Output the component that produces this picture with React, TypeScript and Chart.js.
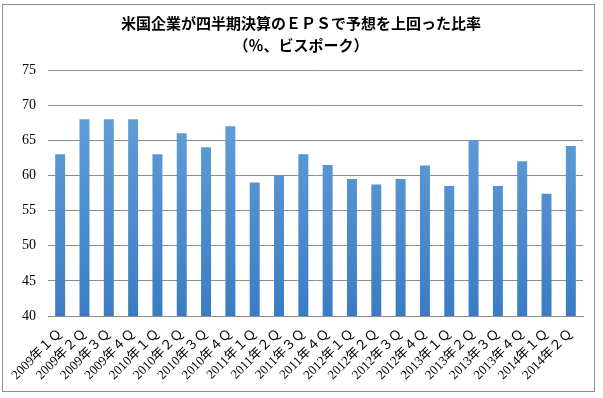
import React, { useEffect, useRef } from "react";
import { Chart, registerables } from "chart.js";

Chart.register(...registerables);

const titleLines = ["米国企業が四半期決算のＥＰＳで予想を上回った比率", "（％、ビスポーク）"];

const categories = [
  "2009年１Ｑ", "2009年２Ｑ", "2009年３Ｑ", "2009年４Ｑ",
  "2010年１Ｑ", "2010年２Ｑ", "2010年３Ｑ", "2010年４Ｑ",
  "2011年１Ｑ", "2011年２Ｑ", "2011年３Ｑ", "2011年４Ｑ",
  "2012年１Ｑ", "2012年２Ｑ", "2012年３Ｑ", "2012年４Ｑ",
  "2013年１Ｑ", "2013年２Ｑ", "2013年３Ｑ", "2013年４Ｑ",
  "2014年１Ｑ", "2014年２Ｑ",
];

const values = [
  63, 68, 68, 68,
  63, 66, 64, 67,
  59, 60, 63, 61.5,
  59.5, 58.7, 59.5, 61.4,
  58.5, 65, 58.5, 62,
  57.4, 64.2,
];

const yMin = 40;
const yMax = 75;
const yStep = 5;

const framePlugin = {
  id: "frame",
  beforeDraw(chart: any) {
    const ctx = chart.ctx;
    ctx.save();
    ctx.fillStyle = "#ffffff";
    ctx.fillRect(0, 0, chart.width, chart.height);
    ctx.strokeStyle = "#8c8c8c";
    ctx.lineWidth = 1;
    ctx.strokeRect(2.5, 4.5, 592, 387);
    ctx.fillStyle = "#000000";
    ctx.font = "bold 15px 'Noto Sans CJK JP', sans-serif";
    ctx.textAlign = "center";
    ctx.textBaseline = "middle";
    ctx.fillText(titleLines[0], 301, 23);
    ctx.fillText(titleLines[1], 301, 45);
    ctx.restore();
  },
};

export default function App() {
  const ref = useRef<HTMLCanvasElement>(null);
  useEffect(() => {
    if (!ref.current) return;
    const chart = new Chart(ref.current, {
      type: "bar",
      data: {
        labels: categories,
        datasets: [
          {
            data: values,
            backgroundColor: (c: any) => {
              const area = c.chart.chartArea;
              if (!area) return "#4a8ccf";
              const g = c.chart.ctx.createLinearGradient(0, area.top, 0, area.bottom);
              g.addColorStop(0, "#6aa5dc");
              g.addColorStop(1, "#3a7cc4");
              return g;
            },
            borderWidth: 0,
            barPercentage: 0.82,
            categoryPercentage: 0.5,
          },
        ],
      },
      options: {
        responsive: false,
        animation: false,
        devicePixelRatio: 1,
        layout: { padding: { left: 0, right: 20, top: 70, bottom: 0 } },
        plugins: {
          legend: { display: false },
          title: { display: false },
          tooltip: { enabled: false },
        },
        scales: {
          x: {
            grid: { display: false },
            border: { display: true, color: "#8c8c8c", width: 1 },
            ticks: {
              color: "#000",
              font: { family: "'Liberation Serif', 'Noto Sans CJK JP', serif", size: 13 },
              maxRotation: 45,
              minRotation: 45,
              autoSkip: false,
              padding: 2,
            },
            afterFit: (s: any) => {
              s.height = 82;
            },
          },
          y: {
            min: yMin,
            max: yMax,
            ticks: {
              stepSize: yStep,
              color: "#000",
              font: { family: "'Liberation Serif', serif", size: 14 },
              padding: 12,
            },
            grid: { color: "#8c8c8c", drawTicks: false, lineWidth: 1 },
            border: { display: false },
            afterFit: (s: any) => {
              s.width = 48;
            },
          },
        },
      },
      plugins: [framePlugin],
    });
    return () => chart.destroy();
  }, []);
  return (
    <div style={{ position: "absolute", left: 0, top: 0, width: 603, height: 398 }}>
      <canvas ref={ref} width={603} height={398} style={{ display: "block" }} />
    </div>
  );
}
